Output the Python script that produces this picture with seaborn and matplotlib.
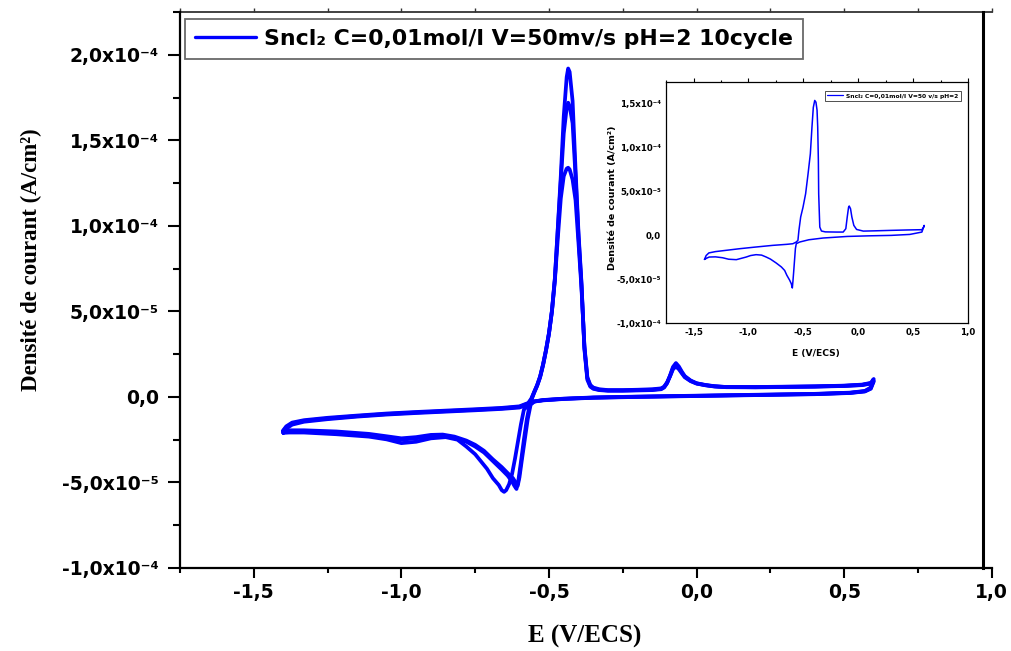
import numpy as np
import pandas as pd
import matplotlib
matplotlib.use("Agg")
import matplotlib.pyplot as plt
from matplotlib.lines import Line2D
from matplotlib.ticker import MultipleLocator, FuncFormatter
import seaborn as sns

# ---------------------------------------------------------------------------
# Cyclic voltammetry of SnCl2 (0.01 mol/l, 50 mV/s, pH 2)
# Potentials in V vs ECS, current densities in units of 1e-5 A/cm2
# ---------------------------------------------------------------------------

# anodic sweep (-1.4 V -> 0.6 V), same potential grid for the three cycles shown
e_fwd = [-1.40, -1.39, -1.37, -1.33, -1.25, -1.15, -1.05, -0.95, -0.85, -0.75,
         -0.66, -0.60, -0.57, -0.56, -0.55, -0.54, -0.53, -0.52, -0.51, -0.50,
         -0.49, -0.48, -0.47, -0.46, -0.45, -0.44, -0.435, -0.43, -0.42, -0.41,
         -0.40, -0.39, -0.38, -0.37, -0.36, -0.35, -0.33, -0.30, -0.25, -0.20,
         -0.15, -0.12, -0.11, -0.10, -0.09, -0.08, -0.07, -0.06, -0.05, -0.04,
         -0.02, 0.00, 0.03, 0.06, 0.10, 0.20, 0.30, 0.40, 0.50, 0.56, 0.59, 0.60]

j_fwd_1 = [-2.10, -1.85, -1.62, -1.45, -1.30, -1.15, -1.03, -0.94, -0.86, -0.78,
           -0.70, -0.62, -0.42, -0.20, 0.25, 0.65, 1.15, 1.85, 2.70, 3.70,
           5.00, 6.90, 9.90, 12.90, 16.40, 18.70, 19.20, 19.00, 17.30, 13.30,
           9.60, 6.70, 2.80, 1.00, 0.60, 0.48, 0.40, 0.36, 0.36, 0.38,
           0.40, 0.45, 0.55, 0.80, 1.25, 1.75, 1.98, 1.78, 1.48, 1.22,
           0.96, 0.80, 0.70, 0.63, 0.58, 0.58, 0.60, 0.62, 0.66, 0.72, 0.82, 1.05]

j_fwd_2 = [-2.00, -1.78, -1.55, -1.40, -1.26, -1.12, -1.00, -0.91, -0.83, -0.75,
           -0.67, -0.58, -0.38, -0.15, 0.28, 0.68, 1.18, 1.90, 2.75, 3.75,
           5.05, 6.95, 9.80, 12.60, 15.40, 16.90, 17.20, 17.00, 16.00, 12.90,
           9.40, 6.60, 2.90, 1.10, 0.65, 0.50, 0.42, 0.38, 0.38, 0.40,
           0.42, 0.48, 0.58, 0.82, 1.22, 1.68, 1.88, 1.70, 1.42, 1.18,
           0.94, 0.79, 0.69, 0.62, 0.58, 0.57, 0.59, 0.61, 0.65, 0.70, 0.80, 0.95]

j_fwd_3 = [-1.95, -1.72, -1.50, -1.36, -1.22, -1.09, -0.97, -0.88, -0.80, -0.72,
           -0.64, -0.55, -0.35, -0.10, 0.30, 0.70, 1.20, 1.90, 2.75, 3.70,
           5.00, 6.80, 9.30, 11.60, 12.90, 13.35, 13.40, 13.30, 12.70, 11.50,
           9.00, 6.40, 3.00, 1.15, 0.70, 0.55, 0.45, 0.40, 0.40, 0.42,
           0.45, 0.50, 0.60, 0.85, 1.20, 1.62, 1.78, 1.62, 1.38, 1.15,
           0.92, 0.78, 0.68, 0.61, 0.57, 0.56, 0.58, 0.60, 0.64, 0.69, 0.78, 0.90]

# cathodic sweep (0.6 V -> -1.4 V)
e_rev_1 = [0.60, 0.59, 0.57, 0.52, 0.40, 0.25, 0.10, -0.05, -0.20, -0.35,
           -0.45, -0.52, -0.56, -0.585, -0.595, -0.605, -0.615, -0.625, -0.635, -0.645,
           -0.652, -0.66, -0.67, -0.69, -0.71, -0.75, -0.78, -0.81, -0.85, -0.90,
           -0.95, -1.00, -1.05, -1.11, -1.22, -1.33, -1.38, -1.40]
j_rev_1 = [1.05, 0.55, 0.35, 0.25, 0.18, 0.14, 0.10, 0.06, 0.02, -0.03,
           -0.10, -0.18, -0.30, -0.75, -1.60, -2.60, -3.60, -4.50, -5.10, -5.45,
           -5.55, -5.45, -5.15, -4.75, -4.20, -3.35, -2.90, -2.50, -2.35, -2.42,
           -2.62, -2.70, -2.48, -2.32, -2.18, -2.08, -2.08, -2.10]

e_rev_2 = [0.60, 0.59, 0.57, 0.52, 0.40, 0.25, 0.10, -0.05, -0.20, -0.35,
           -0.45, -0.52, -0.55, -0.565, -0.575, -0.585, -0.595, -0.603, -0.61, -0.617,
           -0.625, -0.64, -0.66, -0.69, -0.72, -0.75, -0.78, -0.82, -0.86, -0.90,
           -0.95, -1.00, -1.05, -1.11, -1.22, -1.33, -1.38, -1.40]
j_rev_2 = [0.95, 0.50, 0.33, 0.24, 0.17, 0.13, 0.09, 0.05, 0.01, -0.04,
           -0.11, -0.19, -0.26, -0.45, -1.30, -2.50, -3.80, -4.80, -5.38, -5.20,
           -4.95, -4.60, -4.25, -3.75, -3.25, -2.90, -2.62, -2.38, -2.25, -2.28,
           -2.42, -2.50, -2.36, -2.22, -2.08, -2.00, -2.00, -2.02]

e_rev_3 = [0.60, 0.59, 0.57, 0.52, 0.40, 0.25, 0.10, -0.05, -0.20, -0.35,
           -0.45, -0.52, -0.55, -0.562, -0.572, -0.582, -0.592, -0.600, -0.606, -0.613,
           -0.622, -0.64, -0.66, -0.69, -0.72, -0.75, -0.78, -0.82, -0.86, -0.90,
           -0.95, -1.00, -1.05, -1.11, -1.22, -1.33, -1.38, -1.40]
j_rev_3 = [0.90, 0.48, 0.32, 0.23, 0.16, 0.12, 0.08, 0.04, 0.00, -0.05,
           -0.12, -0.20, -0.27, -0.45, -1.30, -2.50, -3.70, -4.70, -5.20, -5.00,
           -4.75, -4.45, -4.10, -3.65, -3.15, -2.80, -2.55, -2.32, -2.20, -2.22,
           -2.35, -2.42, -2.30, -2.16, -2.02, -1.95, -1.95, -1.97]

# single cycle shown in the inset
e_in_fwd = [-1.40, -1.385, -1.36, -1.30, -1.20, -1.08, -0.95, -0.78, -0.65, -0.595,
            -0.565, -0.549, -0.54, -0.524, -0.503, -0.479, -0.457, -0.436, -0.421, -0.409,
            -0.396, -0.385, -0.375, -0.369, -0.363, -0.36, -0.35, -0.335, -0.30, -0.20,
            -0.137, -0.113, -0.10, -0.088, -0.082, -0.07, -0.058, -0.04, -0.015, 0.046,
            0.15, 0.29, 0.45, 0.579, 0.595, 0.60]
j_in_fwd = [-2.74, -2.30, -2.00, -1.85, -1.70, -1.52, -1.35, -1.14, -1.02, -0.95,
            -0.76, -0.57, 0.57, 2.10, 3.20, 4.75, 7.00, 9.30, 12.40, 14.60,
            15.40, 15.20, 14.30, 12.40, 8.60, 4.75, 0.95, 0.50, 0.40, 0.38,
            0.38, 0.76, 2.10, 3.20, 3.35, 3.04, 2.10, 1.14, 0.68, 0.49,
            0.52, 0.57, 0.62, 0.65, 0.90, 1.14]
e_in_rev = [0.60, 0.58, 0.47, 0.30, 0.10, -0.10, -0.32, -0.45, -0.534, -0.564,
            -0.572, -0.58, -0.588, -0.595, -0.60, -0.61, -0.625, -0.65, -0.67, -0.70,
            -0.747, -0.80, -0.838, -0.88, -0.93, -0.98, -1.02, -1.11, -1.18, -1.235,
            -1.30, -1.357, -1.38, -1.40]
j_in_rev = [1.14, 0.38, 0.11, 0.00, -0.05, -0.12, -0.30, -0.50, -0.76, -0.95,
            -1.50, -2.85, -4.20, -5.30, -6.00, -5.50, -5.10, -4.55, -4.00, -3.60,
            -3.15, -2.70, -2.47, -2.25, -2.20, -2.30, -2.47, -2.77, -2.72, -2.55,
            -2.45, -2.47, -2.60, -2.74]

legend_main = "Sncl\u2082 C=0,01mol/l V=50mv/s pH=2 10cycle"
legend_inset = "Sncl\u2082 C=0,01mol/l V=50 v/s pH=2"
x_label = "E (V/ECS)"
y_label = "Densité de courant (A/cm²)"

BLUE = "#0000FF"
SCALE = 1e-5


def cycle_frame(cycle, e_a, j_a, e_c, j_c):
    e = list(e_a) + list(e_c)
    j = list(j_a) + list(j_c)
    return pd.DataFrame({"cycle": cycle, "E": e, "j": np.array(j) * SCALE})


df_main = pd.concat([
    cycle_frame(1, e_fwd, j_fwd_1, e_rev_1, j_rev_1),
    cycle_frame(2, e_fwd, j_fwd_2, e_rev_2, j_rev_2),
    cycle_frame(3, e_fwd, j_fwd_3, e_rev_3, j_rev_3),
], ignore_index=True)
df_inset = cycle_frame(1, e_in_fwd, j_in_fwd, e_in_rev, j_in_rev)

# ---------------------------------------------------------------------------
sns.set_theme(style="white")
plt.rcParams["font.family"] = ["DejaVu Sans"]
plt.rcParams["font.weight"] = "bold"
plt.rcParams["axes.labelweight"] = "bold"
plt.rcParams["text.color"] = "black"
plt.rcParams["axes.labelcolor"] = "black"
plt.rcParams["xtick.color"] = "black"
plt.rcParams["ytick.color"] = "black"

SUP = str.maketrans("-0123456789", "\u207b\u2070\u00b9\u00b2\u00b3\u2074\u2075\u2076\u2077\u2078\u2079")


def y_fmt(v, pos=None):
    if abs(v) < 1e-12:
        return "0,0"
    exp = int(np.floor(np.log10(abs(v)) + 1e-9))
    man = v / 10 ** exp
    return f"{man:.1f}".replace(".", ",") + "x10" + str(exp).translate(SUP)


def x_fmt(v, pos=None):
    if abs(v) < 1e-9:
        return "0,0"
    return f"{v:.1f}".replace(".", ",")


fig = plt.figure(figsize=(10.11, 6.51), dpi=100)
ax = fig.add_axes([0.178, 0.1275, 0.803, 0.854])

sns.lineplot(data=df_main, x="E", y="j", units="cycle", estimator=None,
             sort=False, color=BLUE, lw=2.7, ax=ax, legend=False)

ax.set_xlim(-1.75, 1.0)
ax.set_ylim(-1.0e-4, 2.25e-4)
ax.xaxis.set_major_locator(MultipleLocator(0.5))
ax.xaxis.set_minor_locator(MultipleLocator(0.25))
ax.yaxis.set_major_locator(MultipleLocator(5e-5))
ax.yaxis.set_minor_locator(MultipleLocator(2.5e-5))
ax.xaxis.set_major_formatter(FuncFormatter(x_fmt))
ax.yaxis.set_major_formatter(FuncFormatter(y_fmt))

ax.tick_params(axis="x", which="major", direction="out", length=7.2, width=1.5,
               pad=3.6, labelsize=13.5, colors="black", bottom=True, top=False)
ax.tick_params(axis="x", which="minor", direction="out", length=3.8, width=1.5,
               bottom=True, top=False, colors="black")
ax.tick_params(axis="y", which="major", direction="out", length=8.5, width=1.5,
               pad=6.5, labelsize=13.5, colors="black", left=True, right=False)
ax.tick_params(axis="y", which="minor", direction="out", length=5, width=1.5,
               left=True, right=False, colors="black")

for side in ("left", "bottom"):
    ax.spines[side].set_color("black")
    ax.spines[side].set_linewidth(1.6)
ax.spines["right"].set_color("black")
ax.spines["right"].set_linewidth(2.2)
ax.spines["right"].set_position(("axes", 0.989))
ax.spines["top"].set_visible(False)

top = ax.secondary_xaxis("top")
top.xaxis.set_major_locator(MultipleLocator(0.5))
top.xaxis.set_minor_locator(MultipleLocator(0.25))
top.tick_params(which="both", direction="out", length=3, width=1.0,
                labeltop=False, colors="#333333")
top.spines["top"].set_color("#333333")
top.spines["top"].set_linewidth(1.3)

ax.set_xlabel(x_label, family=["Liberation Serif"], size=18, weight="bold",
              color="black")
ax.set_ylabel(y_label, family=["Liberation Serif"], size=16.5, weight="bold",
              color="black")
ax.xaxis.set_label_coords(0.499, -0.1025)
ax.yaxis.set_label_coords(-0.17, 0.554)

leg = ax.legend([Line2D([], [], color=BLUE, lw=2.4)], [legend_main],
                loc="upper left", bbox_to_anchor=(0.006, 0.987), borderaxespad=0,
                frameon=True, fancybox=False, edgecolor="#444444",
                handlelength=2.8, handletextpad=0.35, borderpad=0.45,
                prop=dict(family="DejaVu Sans", weight="bold", size=15.8))
leg.get_frame().set_linewidth(1.3)
for t in leg.get_texts():
    t.set_color("black")

# ---------------------------------------------------------------------------
# inset: a single cycle
axi = fig.add_axes([0.6588, 0.5038, 0.2987, 0.3702])
axi.set_facecolor("white")
sns.lineplot(data=df_inset, x="E", y="j", estimator=None, sort=False,
             color=BLUE, lw=1.1, ax=axi, legend=False)
axi.set_xlim(-1.75, 1.0)
axi.set_ylim(-1.0e-4, 1.75e-4)
axi.xaxis.set_major_locator(MultipleLocator(0.5))
axi.xaxis.set_minor_locator(MultipleLocator(0.25))
axi.yaxis.set_major_locator(MultipleLocator(5e-5))
axi.yaxis.set_minor_locator(MultipleLocator(2.5e-5))
axi.xaxis.set_major_formatter(FuncFormatter(x_fmt))
axi.yaxis.set_major_formatter(FuncFormatter(y_fmt))
axi.tick_params(which="major", direction="out", length=2.6, width=0.8, pad=1.2,
                labelsize=6.2, colors="black", top=True, labeltop=False)
axi.tick_params(which="minor", direction="out", length=1.5, width=0.8,
                colors="black", top=True)
for s in axi.spines.values():
    s.set_color("black")
    s.set_linewidth(0.9)
axi.set_xlabel(x_label, size=6.6, weight="bold", color="black")
axi.set_ylabel(y_label, size=6.8, weight="bold", color="black")
axi.xaxis.set_label_coords(0.497, -0.108)
axi.yaxis.set_label_coords(-0.162, 0.52)

legi = axi.legend([Line2D([], [], color=BLUE, lw=0.9)], [legend_inset],
                  loc="upper right", bbox_to_anchor=(0.977, 0.963), borderaxespad=0,
                  frameon=True, fancybox=False, edgecolor="black",
                  handlelength=2.7, handletextpad=0.5, borderpad=0.4,
                  prop=dict(family="DejaVu Sans", weight="bold", size=4.3))
legi.get_frame().set_linewidth(0.6)
for t in legi.get_texts():
    t.set_color("black")

fig.savefig("out.png", dpi=100)
